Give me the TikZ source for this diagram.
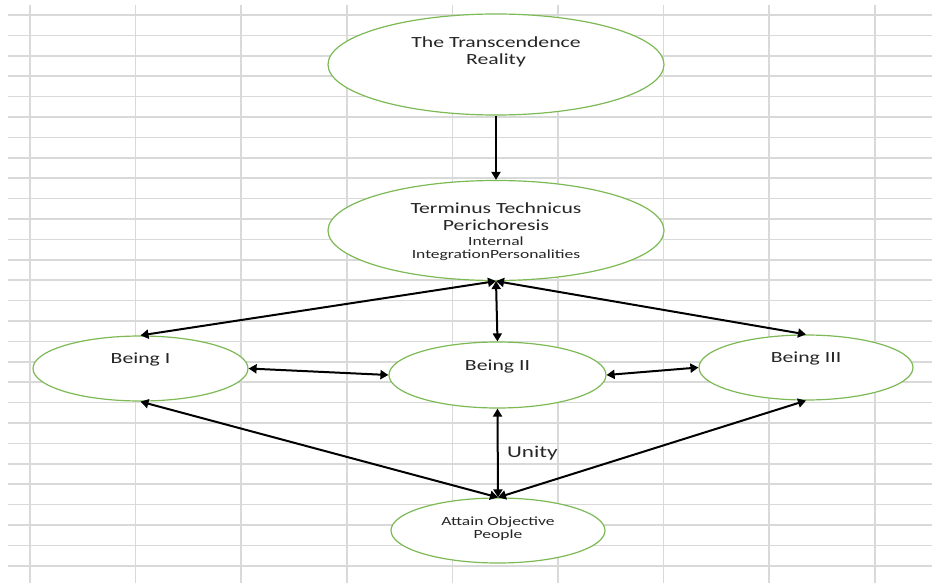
\documentclass[tikz,border=0pt]{standalone}
\usepackage{fontspec}
\setmainfont{Carlito}[FakeStretch=1.4]
\usepackage{tikz}
\usetikzlibrary{arrows.meta,positioning,shapes}
\definecolor{leaf}{RGB}{125,185,85}
\definecolor{cell}{RGB}{217,217,217}

\begin{document}
\begin{tikzpicture}[x=1pt,y=-1pt,
  blob/.style={draw=leaf,line width=1.2pt,ellipse,fill=white,inner sep=0pt},
  txt/.style={inner sep=0pt,align=center,text=black!85,font=\fontsize{15.5}{17}\selectfont},
  small/.style={inner sep=0pt,align=center,text=black!85,font=\fontsize{12.5}{13.5}\selectfont},
  link/.style={line width=2pt,{Triangle[length=8pt,width=9pt]}-{Triangle[length=8pt,width=9pt]}}]
\useasboundingbox (0,0) rectangle (932,583);
\fill[white] (0,0) rectangle (932,583);
% sheet grid
\foreach \k in {0,...,27}
  \draw[cell,line width=1.5pt] (8,15+20.4*\k) -- (932,15+20.4*\k);
\foreach \k in {0,...,8}
  \draw[cell,line width=1.5pt] (30+105.6*\k,5) -- (30+105.6*\k,583);
% ellipses
\node[blob,minimum width=336pt,minimum height=101pt] (real) at (496,64.5) {};
\node[blob,minimum width=336pt,minimum height=100pt] (term) at (496,230.5) {};
\node[blob,minimum width=215pt,minimum height=65pt] (b1) at (140.5,368.5) {};
\node[blob,minimum width=217pt,minimum height=66pt] (b2) at (497.5,375) {};
\node[blob,minimum width=214pt,minimum height=65pt] (b3) at (806,367.5) {};
\node[blob,minimum width=214pt,minimum height=65pt] (att) at (498,530.5) {};
% texts
\node[txt] (realtxt) at (496,51.5) {The Transcendence\\Reality};
\node[txt] (termtxt) at (496,216.5) {Terminus Technicus\\Perichoresis};
\node[small] (termsub) at (496,248.5) {Internal\\IntegrationPersonalities};
\node[txt] (b1txt) at (140.5,359) {Being I};
\node[txt] (b2txt) at (497.5,366) {Being II};
\node[txt] (b3txt) at (806,358) {Being III};
\node[small] (atttxt) at (498,528.5) {Attain Objective\\People};
% arrows
\draw[line width=2pt,-{Triangle[length=8pt,width=9pt]}] (real.south) -- (term.north);
\draw[link] (term.south) -- (b2.north);
\draw[link] (term.south) -- (b1.north);
\draw[link] (term.south) -- (b3.north);
\draw[link] (b1.east) -- (b2.west);
\draw[link] (b2.east) -- (b3.west);
\draw[link] (b1.south) -- (att.north);
\draw[link] (b3.south) -- (att.north);
\draw[link] (b2.south) -- node[right=5pt,text=black!85,font=\fontsize{16.5}{18}\selectfont] (unity) {Unity} (att.north);
\end{tikzpicture}
\end{document}
